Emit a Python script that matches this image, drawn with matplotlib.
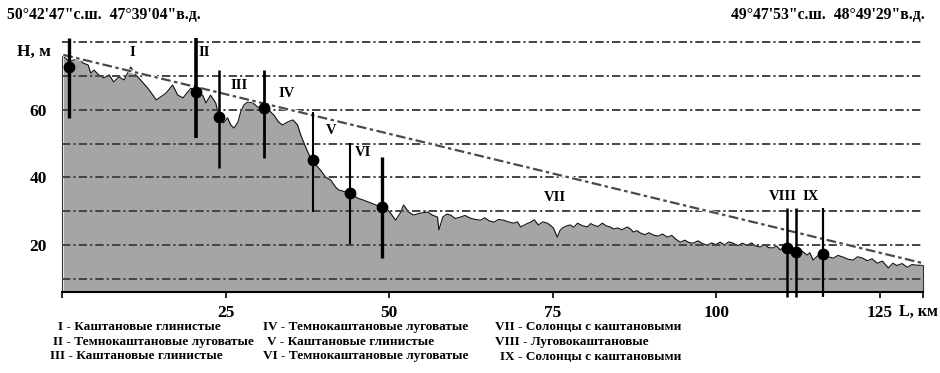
import numpy as np
import matplotlib.pyplot as plt

plt.rcParams['font.family'] = ['Liberation Serif', 'DejaVu Serif']
plt.rcParams['font.weight'] = 'bold'
plt.rcParams['lines.scale_dashes'] = False

# профиль рельефа: расстояние L, км и высота H, м
dist = [0.2, 1.1, 1.8, 2.6, 3.2, 4.0, 4.4, 4.9, 5.6, 6.4, 7.2, 7.9, 8.7, 9.5, 10.1,
        10.5, 11.3, 12.4, 13.1, 13.9, 14.4, 15.1, 15.9, 16.9, 17.7, 18.5, 19.2, 19.7,
        20.5, 21.5, 22.0, 22.7, 23.5, 24.0, 24.7, 25.3, 25.8, 26.3, 26.9, 27.3, 27.8,
        28.4, 29.2, 29.9, 30.8, 31.6, 32.4, 33.1, 33.7, 34.5, 35.3, 36.0, 36.5, 37.3,
        38.0, 38.8, 39.5, 40.3, 41.1, 41.8, 42.3, 43.4, 44.1, 45.2, 46.1, 47.2, 48.7,
        49.8, 50.2, 51.0, 51.8, 52.2, 53.0, 53.7, 54.8, 55.9, 56.6, 57.4, 57.6,
        58.2, 58.8, 59.4, 60.1, 60.9, 61.6, 62.4, 63.2, 64.0, 64.6, 65.3, 66.0, 66.7,
        67.5, 68.2, 69.0, 69.6, 70.1, 70.9, 71.6, 72.2, 72.8, 73.5, 74.2, 74.7, 75.1,
        75.7, 76.1, 76.5, 77.1, 77.7, 78.2, 78.8, 79.5, 80.3, 80.8, 81.2, 81.9, 82.6,
        83.2, 83.8, 84.3, 84.9, 85.6, 86.4, 86.9, 87.3, 87.9, 88.4, 89.1, 89.7, 90.4,
        91.1, 91.8, 92.5, 93.2, 93.8, 94.5, 95.2, 95.8, 96.5, 97.2, 97.9, 98.6, 99.3,
        99.9, 100.6, 101.3, 101.9, 102.6, 103.3, 104.0, 104.7, 105.4, 106.0, 106.7,
        107.4, 108.0, 108.7, 109.2, 109.8, 110.3, 110.8, 111.6, 112.4, 113.1, 113.9,
        114.3, 114.8, 115.5, 116.3, 117.1, 117.9, 118.6, 119.4, 120.1, 120.9, 121.6,
        122.4, 123.1, 123.8, 124.6, 125.4, 126.3, 127.0, 127.6, 128.4, 129.2, 129.9,
        130.7, 131.6]
height = [75.9, 74.1, 74.7, 75.3, 73.8, 73.2, 70.8, 71.7, 70.3, 69.4, 70.3, 68.2, 69.7,
          68.8, 71.1, 72.6, 70.3, 67.9, 66.4, 64.3, 62.9, 63.8, 64.9, 67.3, 64.3, 63.5,
          65.2, 66.4, 65.2, 64.3, 62.0, 64.3, 62.0, 57.9, 56.1, 57.6, 55.5, 54.6, 56.4,
          59.3, 61.4, 62.3, 62.0, 60.8, 60.5, 59.9, 58.4, 56.4, 55.5, 56.4, 57.0, 55.5,
          52.5, 48.7, 45.7, 43.7, 42.2, 40.1, 39.2, 37.2, 36.3, 35.7, 35.4, 33.9, 33.3,
          32.5, 31.3, 30.4, 29.5, 27.4, 29.8, 31.9, 29.8, 28.9, 29.5, 29.8, 28.9, 28.3,
          24.5,
          28.3, 29.2, 28.9, 27.9, 28.3, 28.8, 28.0, 27.6, 27.4, 28.1, 27.2, 26.8, 27.6,
          27.4, 26.9, 26.5, 26.9, 25.4, 26.2, 26.8, 27.5, 26.0, 26.9, 26.5, 25.8, 25.1,
          22.4, 24.3, 25.1, 25.7, 26.0, 25.3, 26.5, 25.8, 25.4, 26.4, 26.0, 25.5, 26.5,
          25.7, 25.4, 24.8, 25.1, 24.6, 25.4, 24.8, 23.9, 24.3, 23.6, 23.1, 23.7, 23.0,
          22.7, 23.3, 22.4, 22.9, 21.8, 20.9, 21.5, 20.8, 20.6, 21.3, 20.5, 20.0, 20.7,
          20.2, 20.9, 20.1, 21.0, 20.6, 19.9, 20.6, 20.0, 20.7, 19.8, 19.5,
          20.2, 19.3, 19.2, 19.8, 18.6, 19.5, 19.2, 18.4, 18.0, 18.3, 17.1,
          17.8, 15.6, 16.9, 17.4, 16.6, 16.2, 17.0, 16.5, 15.9, 15.6, 16.6,
          16.2, 15.4, 16.0, 14.7, 15.3, 13.3, 14.7, 14.0, 14.6, 13.5, 14.3,
          14.1, 14.1]

# прямая между конечными точками профиля
trend_L = [0.2, 131.6]
trend_H = [76.2, 14.7]

# разрезы: положение, низ, верх, точка, толщина
cut_L = [1.1, 20.5, 24.0, 30.8, 38.3, 44.0, 48.9, 110.8, 112.2, 116.3]
cut_bot = [57.6, 51.6, 42.8, 45.7, 29.8, 20.3, 16.2, 4.7, 4.7, 4.7]
cut_top = [81.2, 81.2, 71.7, 71.7, 59.3, 50.2, 46.0, 31.0, 31.0, 31.0]
cut_H = [72.6, 65.2, 57.9, 60.5, 45.2, 35.4, 31.3, 19.2, 18.0, 17.4]
cut_lw = [2.4, 2.6, 1.8, 2.0, 1.5, 1.5, 2.4, 1.8, 1.8, 1.6]

roman = ['I', 'II', 'III', 'IV', 'V', 'VI', 'VII', 'VIII', 'IX']
roman_L = [10.8, 21.7, 27.0, 34.4, 41.1, 46.0, 75.3, 110.2, 114.4]
roman_H = [77.0, 77.0, 67.3, 64.9, 54.0, 47.5, 34.2, 34.5, 34.5]

grid_levels = [10, 20, 30, 40, 50, 60, 70, 80]
xticks = [0, 25, 50, 75, 100, 125, 131.6]
xlabels = ['', '25', '50', '75', '100', '125', '']
yticks = [20, 40, 60]

legend_lines = [
    ('I - Каштановые глинистые', 58, 327),
    ('II - Темнокаштановые луговатые', 53, 342),
    ('III - Каштановые глинистые', 50, 356),
    ('IV - Темнокаштановые луговатые', 263, 327),
    ('V - Каштановые глинистые', 267, 342),
    ('VI - Темнокаштановые луговатые', 263, 356),
    ('VII - Солонцы с каштановыми', 495, 327),
    ('VIII - Луговокаштановые', 495, 342),
    ('IX - Солонцы с каштановыми', 500, 357),
]

W, H = 940, 373
fig = plt.figure(figsize=(W / 100, H / 100), dpi=100)
y0, y1 = 6.2, 82.0
ax = fig.add_axes([62 / W, 1 - 292 / H, 861 / W, (292 - 35.2) / H])
ax.set_xlim(0, 131.6)
ax.set_ylim(y0, y1)

for g in grid_levels:
    ax.axhline(g, color='#444444', lw=1.4, dashes=(6, 2.2, 1.6, 2.2), zorder=3)

ax.fill_between(dist, y0, height, color='#a5a5a5', lw=0, zorder=1)
ax.plot(dist, height, color='#111111', lw=0.8, zorder=2)

ax.plot(trend_L, trend_H, color='white', lw=2.4, zorder=4)
ax.plot(trend_L, trend_H, color='#4a4a4a', lw=1.6, dashes=(7, 2.5, 2.5, 2.5), zorder=5)

for L, b, t, h, lw in zip(cut_L, cut_bot, cut_top, cut_H, cut_lw):
    ax.plot([L, L], [b, t], color='black', lw=lw, zorder=6, clip_on=False,
            solid_capstyle='butt')
    ax.plot(L, h, 'o', color='black', ms=7.5, zorder=7, clip_on=False)

for r, L, h in zip(roman, roman_L, roman_H):
    ax.text(L, h, r, ha='center', va='center', fontsize=10.5, fontweight='bold', zorder=8)

ax.spines['top'].set_visible(False)
ax.spines['bottom'].set_linewidth(1.5)
ax.spines['left'].set_bounds(y0, height[0])
ax.spines['left'].set_color('#333333')
ax.spines['right'].set_bounds(y0, height[-1])
ax.spines['right'].set_color('#333333')

ax.set_xticks(xticks)
ax.set_xticklabels(xlabels)
ax.tick_params(axis='x', direction='out', length=4.5, width=1.2, pad=5, labelsize=12.5)
ax.set_yticks(yticks)
ax.set_yticklabels([str(v) for v in yticks])
ax.tick_params(axis='y', length=0, pad=11, labelsize=12.5)
for lab in ax.get_xticklabels() + ax.get_yticklabels():
    lab.set_fontweight('bold')

fig.text(899 / W, 1 - 312 / H, 'L, км', ha='left', va='center', fontsize=11.5, fontweight='bold')
fig.text(17 / W, 1 - 52 / H, 'H, м', ha='left', va='center', fontsize=12.5, fontweight='bold')

fig.text(7 / W, 1 - 15 / H, '50°42\'47"с.ш.  47°39\'04"в.д.', ha='left', va='center',
         fontsize=11.3, fontweight='bold')
fig.text(925 / W, 1 - 15 / H, '49°47\'53"с.ш.  48°49\'29"в.д.', ha='right', va='center',
         fontsize=11.3, fontweight='bold')

for s, x, y in legend_lines:
    fig.text(x / W, 1 - y / H, s, ha='left', va='center', fontsize=9.5, fontweight='bold')

fig.savefig('out.png', dpi=100)
